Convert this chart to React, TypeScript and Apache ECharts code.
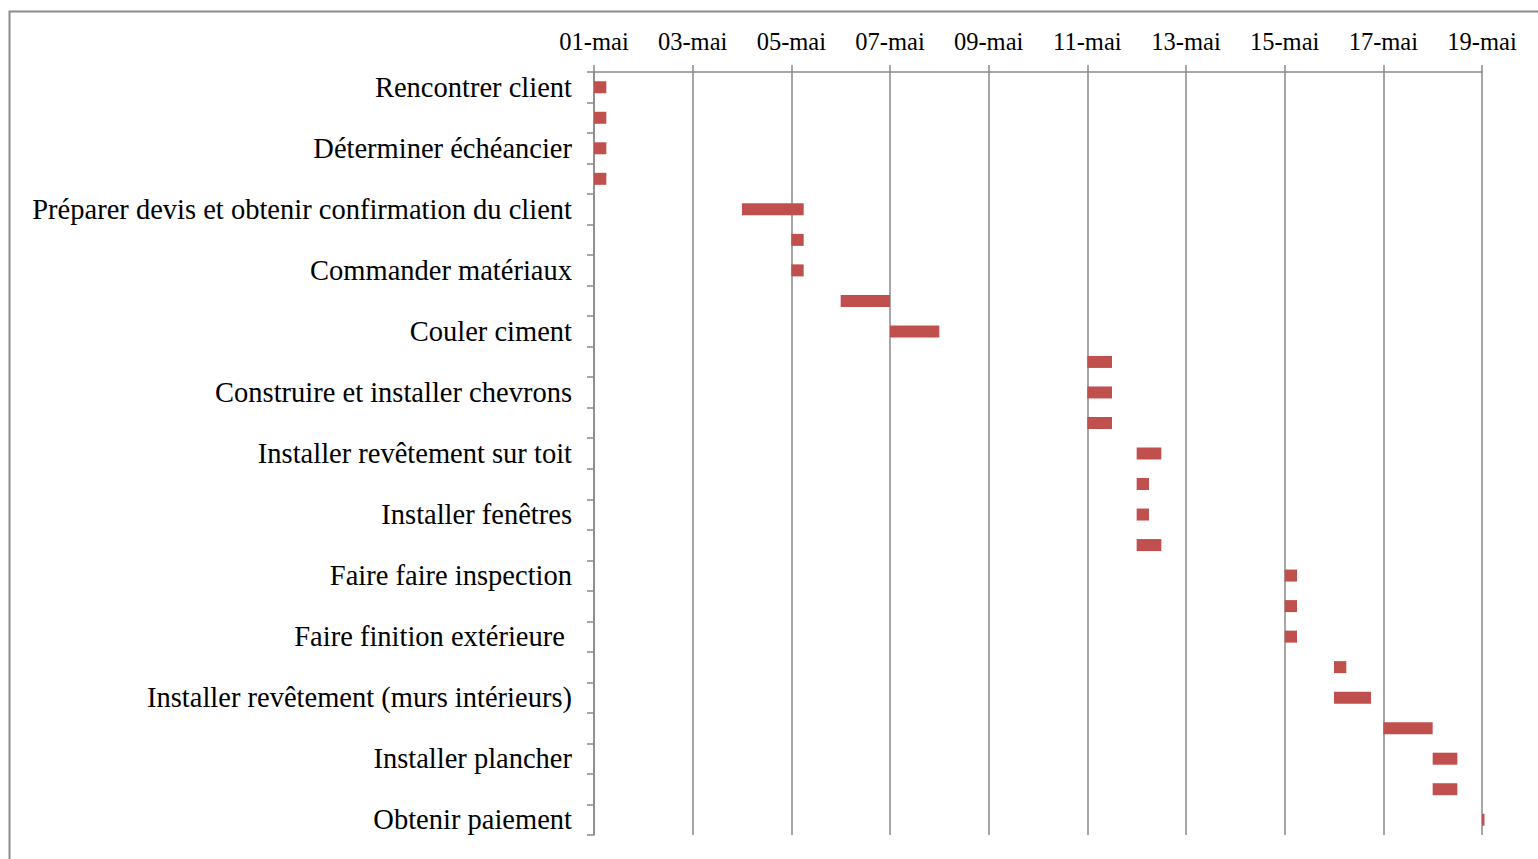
import React, { useEffect, useRef } from "react";
import * as echarts from "echarts";

const taskLabels: string[] = [
  "Rencontrer client", "",
  "Déterminer échéancier", "",
  "Préparer devis et obtenir confirmation du client", "",
  "Commander matériaux", "",
  "Couler ciment", "",
  "Construire et installer chevrons", "",
  "Installer revêtement sur toit", "",
  "Installer fenêtres", "",
  "Faire faire inspection", "",
  "Faire finition extérieure ", "",
  "Installer revêtement (murs intérieurs)", "",
  "Installer plancher", "",
  "Obtenir paiement",
];

// start day (day of May) and duration in days
const startDay: number[] = [1, 1, 1, 1, 4, 5, 5, 6, 7, 11, 11, 11, 12, 12, 12, 12, 15, 15, 15, 16, 16, 17, 18, 18, 19];
const durationDays: number[] = [0.25, 0.25, 0.25, 0.25, 1.25, 0.25, 0.25, 1, 1, 0.5, 0.5, 0.5, 0.5, 0.25, 0.25, 0.5, 0.25, 0.25, 0.25, 0.25, 0.75, 1, 0.5, 0.5, 0.05];

const axisMinDay = 1;
const axisMaxDay = 19;
const tickStep = 2;
const monthLabel = "mai";

export default function App() {
  const ref = useRef<HTMLDivElement>(null);
  useEffect(() => {
    if (!ref.current) return;
    const chart = echarts.init(ref.current, null, { renderer: "svg" });
    const gray = "#8a8a8a";
    const offsets = startDay.map((d) => d - axisMinDay);
    chart.setOption({
      animation: false,
      backgroundColor: "#ffffff",
      graphic: [
        {
          type: "rect",
          shape: { x: 9.5, y: 11.5, width: 1600, height: 900 },
          style: { fill: "none", stroke: gray, lineWidth: 2 },
          silent: true,
        },
      ],
      grid: { left: 594, top: 72, right: 56, bottom: 24, containLabel: false },
      xAxis: {
        type: "value",
        position: "top",
        min: 0,
        max: axisMaxDay - axisMinDay,
        interval: tickStep,
        axisLine: { show: true, lineStyle: { color: gray, width: 1.5 } },
        axisTick: { show: true, length: 7, lineStyle: { color: gray, width: 1.5 } },
        splitLine: { show: true, lineStyle: { color: gray, width: 1.5 } },
        axisLabel: {
          margin: 18,
          color: "#000",
          fontFamily: "Liberation Serif",
          fontSize: 24.5,
          formatter: (v: number) => {
            const d = Math.round(v) + axisMinDay;
            return (d < 10 ? "0" + d : "" + d) + "-" + monthLabel;
          },
        },
      },
      yAxis: {
        type: "category",
        inverse: true,
        data: taskLabels,
        boundaryGap: true,
        axisLine: { show: true, lineStyle: { color: gray, width: 1.5 } },
        axisTick: { show: true, length: 7, interval: 0, lineStyle: { color: gray, width: 1.5 } },
        splitLine: { show: false },
        axisLabel: {
          interval: 0,
          margin: 22,
          color: "#000",
          fontFamily: "Liberation Serif",
          fontSize: 28.5,
        },
      },
      series: [
        {
          type: "bar",
          stack: "gantt",
          data: offsets,
          barWidth: 12,
          itemStyle: { color: "transparent" },
          silent: true,
        },
        {
          type: "bar",
          stack: "gantt",
          data: durationDays,
          barWidth: 12,
          clip: false,
          itemStyle: { color: "#C0504D" },
        },
      ],
    });
    return () => chart.dispose();
  }, []);
  return (
    <div
      ref={ref}
      style={{ position: "absolute", left: 0, top: 0, width: 1538, height: 859, background: "#fff" }}
    />
  );
}
